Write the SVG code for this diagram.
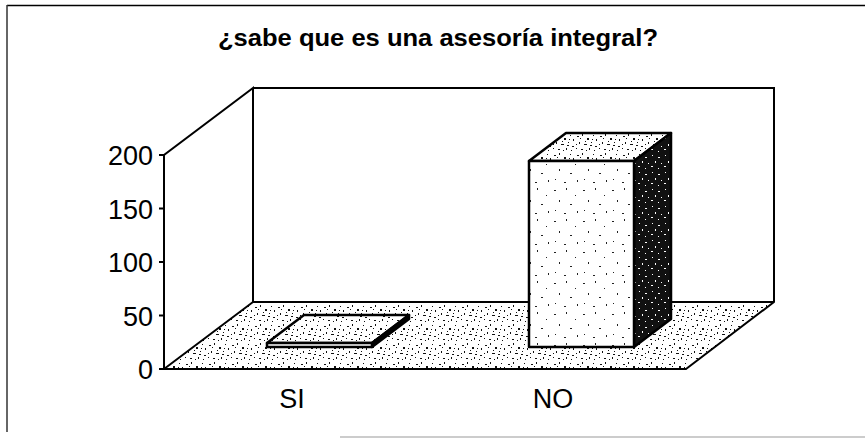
<svg xmlns="http://www.w3.org/2000/svg" width="865" height="440" viewBox="0 0 865 440">
<style>
.ln{stroke:#000;fill:none;stroke-width:2}
.lbl{font-family:"Liberation Sans",Arial,sans-serif;font-size:27px;fill:#000}
.ttl{font-family:"Liberation Sans",Arial,sans-serif;font-size:24px;font-weight:bold;fill:#000}
.bar{stroke:#000;stroke-width:2.5;stroke-linejoin:round}
</style>
<defs>
<pattern id="speck" width="23" height="19" patternUnits="userSpaceOnUse">
<rect width="23" height="19" fill="#fff"/>
<g fill="#111">
<rect x="2" y="3" width="2" height="1"/><rect x="7" y="1" width="1" height="2"/><rect x="12" y="5" width="2" height="2"/>
<rect x="18" y="2" width="1" height="1"/><rect x="4" y="9" width="1" height="2"/><rect x="9" y="11" width="3" height="1"/>
<rect x="16" y="9" width="1" height="1"/><rect x="20" y="13" width="2" height="1"/><rect x="1" y="15" width="1" height="1"/>
<rect x="6" y="16" width="2" height="1"/><rect x="14" y="15" width="1" height="2"/><rect x="19" y="17" width="1" height="1"/>
<rect x="10" y="8" width="1" height="1"/><rect x="21" y="6" width="1" height="2"/>
<rect x="5" y="5" width="1" height="1"/><rect x="15" y="12" width="2" height="1"/><rect x="11" y="17" width="1" height="1"/>
<rect x="17" y="6" width="1" height="1"/><rect x="1" y="11" width="1" height="1"/>
</g>
</pattern>
<pattern id="sparse" width="29" height="31" patternUnits="userSpaceOnUse">
<rect width="29" height="31" fill="#fff"/>
<g fill="#222">
<rect x="3" y="4" width="2" height="1"/><rect x="15" y="2" width="1" height="2"/><rect x="24" y="9" width="1" height="1"/>
<rect x="8" y="14" width="1" height="2"/><rect x="19" y="18" width="2" height="1"/><rect x="4" y="24" width="1" height="1"/>
<rect x="13" y="27" width="2" height="1"/><rect x="26" y="25" width="1" height="2"/>
</g>
</pattern>
<pattern id="dark" width="13" height="17" patternUnits="userSpaceOnUse">
<rect width="13" height="17" fill="#111"/>
<g fill="#fff">
<rect x="2" y="2" width="1" height="1"/><rect x="8" y="4" width="2" height="1"/><rect x="5" y="8" width="1" height="2"/>
<rect x="11" y="10" width="1" height="1"/><rect x="1" y="13" width="2" height="1"/><rect x="8" y="15" width="1" height="1"/>
</g>
</pattern>
</defs>

<g id="frame">
<line x1="7" y1="5.5" x2="865" y2="5.5" stroke="#000" stroke-width="1.5"/>
<line x1="7" y1="5" x2="7" y2="432" stroke="#333" stroke-width="1.5"/>
<line x1="340" y1="437" x2="865" y2="437" stroke="#bbb" stroke-width="1.5"/>
</g>

<g id="title">
<text class="ttl" x="438" y="46" text-anchor="middle" textLength="440" lengthAdjust="spacingAndGlyphs">¿sabe que es una asesoría integral?</text>
</g>

<g id="walls">
<polygon points="164,369 253,302 774,302 686,369" fill="url(#speck)" stroke="#000" stroke-width="2" stroke-linejoin="round"/>
<polyline class="ln" points="164,369 164,155 253,88 253,302"/>
<polyline class="ln" points="253,88 774,88 774,302"/>
</g>

<g id="axis" class="ln">
<line x1="159" y1="155" x2="164" y2="155"/>
<line x1="159" y1="208.5" x2="164" y2="208.5"/>
<line x1="159" y1="262" x2="164" y2="262"/>
<line x1="159" y1="315.5" x2="164" y2="315.5"/>
<line x1="159" y1="369" x2="164" y2="369"/>
</g>

<g id="y-labels" class="lbl" text-anchor="end">
<text x="153" y="165">200</text>
<text x="153" y="218.5">150</text>
<text x="153" y="272">100</text>
<text x="153" y="325.5">50</text>
<text x="153" y="379">0</text>
</g>

<g id="bar-si">
<polygon class="bar" points="267,343 304,315 409,315 372,343" fill="url(#speck)"/>
<polygon class="bar" points="372,343 409,315 409,319 372,347" fill="#000"/>
<rect class="bar" x="267" y="343" width="105" height="4" fill="#fff"/>
</g>

<g id="bar-no">
<polygon class="bar" points="529,161 566,133 671,133 634,161" fill="url(#speck)"/>
<polygon class="bar" points="634,161 671,133 671,319 634,347" fill="url(#dark)"/>
<rect class="bar" x="529" y="161" width="105" height="186" fill="url(#sparse)"/>
</g>

<g id="x-labels" class="lbl" text-anchor="middle">
<text x="292" y="408">SI</text>
<text x="553" y="408">NO</text>
</g>
</svg>
